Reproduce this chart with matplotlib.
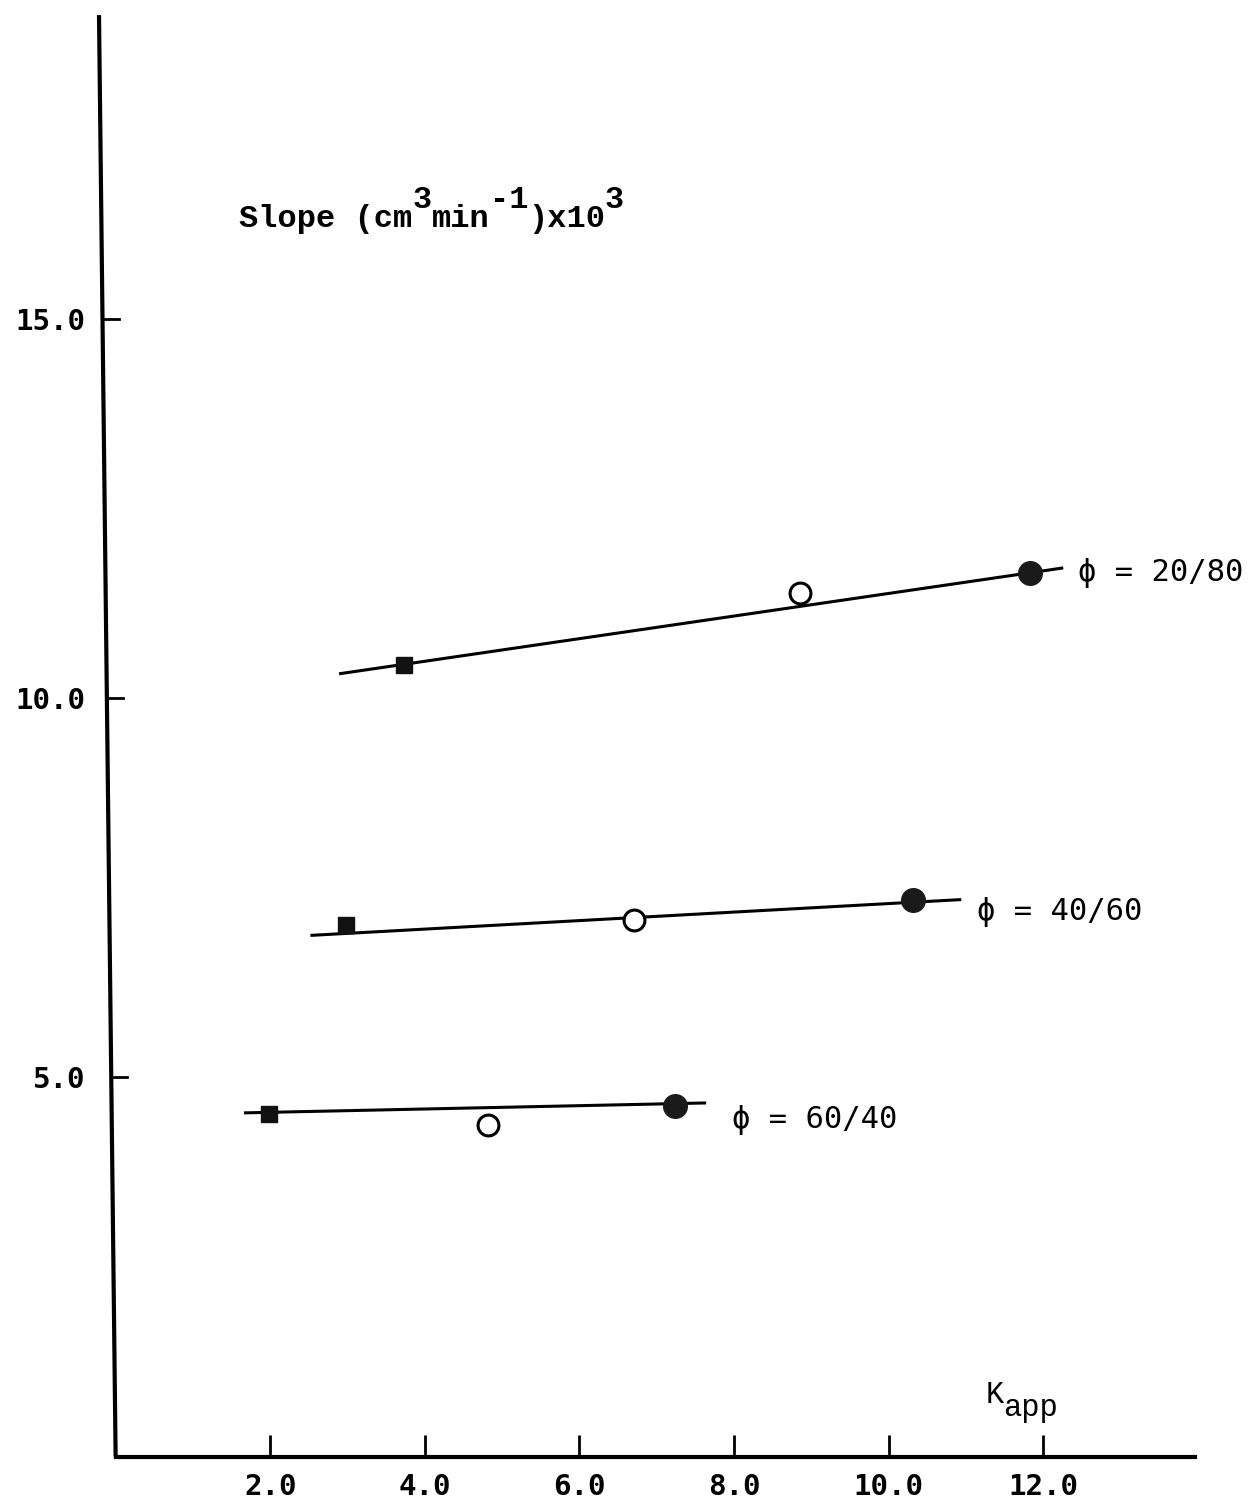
import numpy as np
import matplotlib.pyplot as plt

# data
labels = ["20/80", "40/60", "60/40"]
sq_x = [3.73, 2.98, 1.98]
sq_y = [10.43, 7.00, 4.51]
open_x = [8.85, 6.70, 4.82]
open_y = [11.38, 7.07, 4.37]
fill_x = [11.83, 10.31, 7.24]
fill_y = [11.64, 7.33, 4.62]
line_x0 = [2.91, 2.54, 1.68]
line_x1 = [12.24, 10.92, 7.62]
line_y0 = [10.32, 6.87, 4.53]
line_y1 = [11.71, 7.34, 4.66]
lab_x = [12.45, 11.14, 7.98]
lab_y = [11.64, 7.18, 4.44]

xticks = [2.0, 4.0, 6.0, 8.0, 10.0, 12.0]
yticks = [5.0, 10.0, 15.0]

YMAX = 19.0
LEAN = -0.215   # the hand-drawn y axis leans left towards the top

fig = plt.figure(figsize=(12.54, 15.07), dpi=100)
ax = fig.add_axes([0.0922, 0.0335, 0.8605, 0.9565])

for i in range(3):
    ax.plot([line_x0[i], line_x1[i]], [line_y0[i], line_y1[i]], color='black', lw=2.2, zorder=2)
    ax.plot(sq_x[i], sq_y[i], 's', color='#111111', ms=12, zorder=3)
    ax.plot(open_x[i], open_y[i], 'o', mfc='white', mec='black', mew=2.2, ms=15, zorder=3)
    ax.plot(fill_x[i], fill_y[i], 'o', color='#1a1a1a', ms=17, zorder=3)
    ax.text(lab_x[i], lab_y[i], "ϕ = " + labels[i], fontsize=22, family='DejaVu Sans Mono',
            va='center', ha='left')

ax.set_xlim(0, 13.96)
ax.set_ylim(0, YMAX)
ax.set_xticks(xticks)
ax.set_xticklabels(["%.1f" % v for v in xticks])
ax.set_yticks(yticks)
ax.set_yticklabels(["%.1f" % v for v in yticks])
ax.tick_params(axis='x', direction='in', length=16, width=2, labelsize=21, pad=12)
ax.tick_params(axis='y', length=0, labelsize=21, pad=22)
for lab in ax.get_xticklabels() + ax.get_yticklabels():
    lab.set_family('DejaVu Sans Mono')
    lab.set_fontweight('bold')

ax.spines['top'].set_visible(False)
ax.spines['right'].set_visible(False)
ax.spines['left'].set_visible(False)
ax.spines['bottom'].set_linewidth(3)

# leaning y axis with its ticks
ax.plot([0, LEAN], [0, YMAX], color='black', lw=3, clip_on=False, solid_capstyle='butt')
for yt in yticks:
    xa = LEAN * yt / YMAX
    ax.plot([xa, xa + 0.21], [yt, yt], color='black', lw=2, clip_on=False)

# y label built from pieces so the superscripts stay near full size
fp = dict(fontsize=23, family='Liberation Mono', fontweight='bold')
pieces = [("Slope (cm", 0), ("3", 1), ("min", 0), ("-1", 1), (")x10", 0), ("3", 1)]
prev = ax.text(1.6, 16.2, pieces[0][0], va='baseline', ha='left', **fp)
last_raise = 0
for s, up in pieces[1:]:
    r = 14 if up else 0
    prev = ax.annotate(s, xy=(1, 0), xycoords=prev, xytext=(0, r - last_raise),
                       textcoords='offset points', va='bottom', ha='left', **fp)
    last_raise = r

k = ax.text(11.26, 0.70, "K", va='baseline', ha='left', fontsize=22, family='Liberation Mono')
ax.annotate("app", xy=(1, 0), xycoords=k, xytext=(-1, -9), textcoords='offset points',
            va='bottom', ha='left', fontsize=22, family='Liberation Mono')

fig.savefig("out.png", dpi=100)
